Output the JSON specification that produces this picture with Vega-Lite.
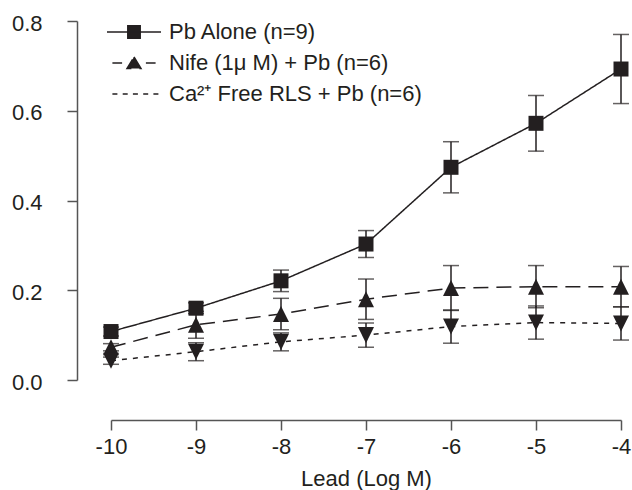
{
  "$schema": "https://vega.github.io/schema/vega-lite/v6.json",
  "width": 510,
  "height": 359,
  "autosize": {"type": "none"},
  "padding": {"left": 111, "top": 21, "right": 11, "bottom": 110},
  "background": "white",
  "config": {
    "view": {"stroke": null},
    "font": "Liberation Sans",
    "axis": {
      "grid": false,
      "domainColor": "#555555",
      "tickColor": "#555555",
      "domainWidth": 1.5,
      "tickWidth": 1.5,
      "labelColor": "#231f20",
      "titleColor": "#231f20",
      "labelFontSize": 22,
      "titleFontSize": 22,
      "titleFontWeight": "normal",
      "tickSize": 10
    }
  },
  "data": {
    "values": [
      {"series": "Pb Alone (n=9)", "logM": -10, "mean": 0.108, "sem": 0.010},
      {"series": "Pb Alone (n=9)", "logM": -9, "mean": 0.160, "sem": 0.012},
      {"series": "Pb Alone (n=9)", "logM": -8, "mean": 0.221, "sem": 0.024},
      {"series": "Pb Alone (n=9)", "logM": -7, "mean": 0.303, "sem": 0.030},
      {"series": "Pb Alone (n=9)", "logM": -6, "mean": 0.474, "sem": 0.057},
      {"series": "Pb Alone (n=9)", "logM": -5, "mean": 0.572, "sem": 0.062},
      {"series": "Pb Alone (n=9)", "logM": -4, "mean": 0.693, "sem": 0.077},
      {"series": "Nife (1μ M) + Pb (n=6)", "logM": -10, "mean": 0.073, "sem": 0.008},
      {"series": "Nife (1μ M) + Pb (n=6)", "logM": -9, "mean": 0.123, "sem": 0.030},
      {"series": "Nife (1μ M) + Pb (n=6)", "logM": -8, "mean": 0.147, "sem": 0.035},
      {"series": "Nife (1μ M) + Pb (n=6)", "logM": -7, "mean": 0.180, "sem": 0.045},
      {"series": "Nife (1μ M) + Pb (n=6)", "logM": -6, "mean": 0.205, "sem": 0.050},
      {"series": "Nife (1μ M) + Pb (n=6)", "logM": -5, "mean": 0.208, "sem": 0.047},
      {"series": "Nife (1μ M) + Pb (n=6)", "logM": -4, "mean": 0.208, "sem": 0.045},
      {"series": "Ca²⁺ Free RLS + Pb (n=6)", "logM": -10, "mean": 0.043, "sem": 0.008},
      {"series": "Ca²⁺ Free RLS + Pb (n=6)", "logM": -9, "mean": 0.063, "sem": 0.020},
      {"series": "Ca²⁺ Free RLS + Pb (n=6)", "logM": -8, "mean": 0.085, "sem": 0.020},
      {"series": "Ca²⁺ Free RLS + Pb (n=6)", "logM": -7, "mean": 0.100, "sem": 0.027},
      {"series": "Ca²⁺ Free RLS + Pb (n=6)", "logM": -6, "mean": 0.119, "sem": 0.037},
      {"series": "Ca²⁺ Free RLS + Pb (n=6)", "logM": -5, "mean": 0.128, "sem": 0.037},
      {"series": "Ca²⁺ Free RLS + Pb (n=6)", "logM": -4, "mean": 0.126, "sem": 0.037}
    ]
  },
  "encoding": {
    "x": {
      "field": "logM",
      "type": "quantitative",
      "scale": {"domain": [-10, -4], "nice": false, "zero": false},
      "axis": {
        "values": [-10, -9, -8, -7, -6, -5, -4],
        "labelExpr": "'' + datum.value",
        "offset": 40,
        "labelPadding": 6,
        "labelFlush": false,
        "title": "Lead (Log M)",
        "titlePadding": 11
      }
    },
    "y": {
      "field": "mean",
      "type": "quantitative",
      "scale": {"domain": [0, 0.8], "nice": false},
      "axis": {
        "values": [0, 0.2, 0.4, 0.6, 0.8],
        "format": ".1f",
        "offset": 34,
        "labelPadding": 25,
        "labelOffset": 2,
        "title": null
      }
    }
  },
  "resolve": {"legend": {"shape": "independent", "strokeDash": "independent"}},
  "layer": [
    {
      "mark": {"type": "errorbar", "ticks": true, "size": 16, "thickness": 1.5, "color": "#231f20"},
      "encoding": {"yError": {"field": "sem"}, "detail": {"field": "series"}}
    },
    {
      "mark": {"type": "line", "color": "#231f20", "strokeWidth": 1.5},
      "encoding": {
        "strokeDash": {
          "field": "series",
          "type": "nominal",
          "scale": {
            "domain": ["Pb Alone (n=9)", "Nife (1μ M) + Pb (n=6)", "Ca²⁺ Free RLS + Pb (n=6)"],
            "range": [[1, 0], [15, 8], [5, 6]]
          },
          "legend": {
            "title": null,
            "orient": "none",
            "legendX": 12,
            "legendY": 0,
            "padding": 0,
            "labelLimit": 400,
            "symbolSize": 400,
            "symbolType": {"expr": "datum.index === 0 ? 'M-2.7,0H2.7M-0.62,-0.62H0.62V0.62H-0.62Z' : datum.index === 1 ? 'M-2.16,0H-1.19M1.19,0H2.16M0,-0.6L0.7,0.54L-0.7,0.54Z' : 'M-2.16,0H-1.65M-1.13,0H-0.62M-0.11,0H0.4M0.92,0H1.43M1.94,0H2.46'"},
            "symbolStrokeWidth": 1.5,
            "symbolStrokeColor": "#231f20",
            "symbolFillColor": "#231f20",
            "symbolOpacity": 1,
            "labelFontSize": 22,
            "labelColor": "#231f20",
            "labelOffset": 24,
            "rowPadding": 9,
            "encode": {
              "symbols": {
                "update": {
                  "fill": {"value": "#231f20"},
                  "stroke": {"value": "#231f20"}
                }
              }
            }
          }
        }
      }
    },
    {
      "mark": {"type": "point", "filled": true, "opacity": 1, "color": "#231f20", "size": 225},
      "encoding": {
        "shape": {
          "field": "series",
          "type": "nominal",
          "scale": {
            "domain": ["Pb Alone (n=9)", "Nife (1μ M) + Pb (n=6)", "Ca²⁺ Free RLS + Pb (n=6)"],
            "range": ["square", "M0,-1.07L1.07,1.07L-1.07,1.07Z", "M-1.07,-1.07L1.07,-1.07L0,1.07Z"]
          },
          "legend": null
        }
      }
    }
  ]
}
